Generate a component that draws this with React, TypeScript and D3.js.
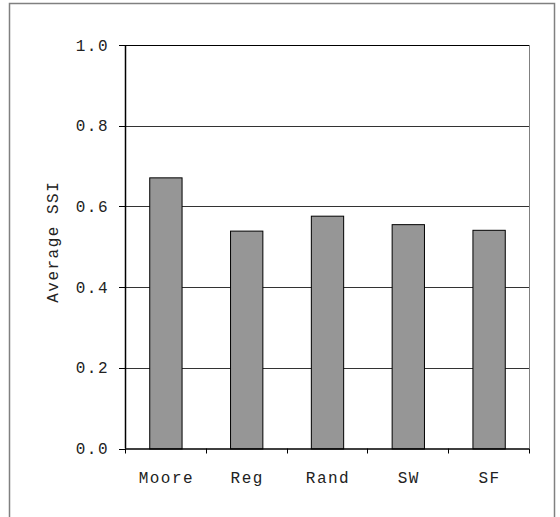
import { useRef, useEffect } from "react";
import * as d3 from "d3";

const categories = ["Moore", "Reg", "Rand", "SW", "SF"];
const ssiValues = [0.672, 0.54, 0.577, 0.556, 0.542];
const yTicks = [0, 0.2, 0.4, 0.6, 0.8, 1.0];

const App = () => {
  const ref = useRef<SVGSVGElement>(null);

  useEffect(() => {
    const svg = d3.select(ref.current);
    svg.selectAll("*").remove();

    const margin = { top: 45, left: 125, right: 31, bottom: 68 };
    const W = 560;
    const H = 517;
    const width = W - margin.left - margin.right;
    const height = H - margin.top - margin.bottom - 0.5;
    const font = "'Liberation Mono', 'DejaVu Sans Mono', monospace";

    // outer frame
    svg
      .append("rect")
      .attr("x", 9.5)
      .attr("y", 3.5)
      .attr("width", 545)
      .attr("height", 520)
      .attr("fill", "white")
      .attr("stroke", "#808080")
      .attr("stroke-width", 1.5);

    const g = svg.append("g").attr("transform", `translate(${margin.left},${margin.top})`);

    const x = d3.scaleBand<string>().domain(categories).range([0, width]).paddingInner(0.6).paddingOuter(0.3);
    const y = d3.scaleLinear().domain([0, 1]).range([height, 0]);

    // gridlines
    g.selectAll(".grid")
      .data(yTicks.slice(1))
      .enter()
      .append("line")
      .attr("x1", 0)
      .attr("x2", width)
      .attr("y1", d => Math.round(y(d)) + 0.5)
      .attr("y2", d => Math.round(y(d)) + 0.5)
      .attr("stroke", d => (d === 1 ? "#000" : "#333"))
      .attr("stroke-width", 1);

    // right edge of plot
    g.append("line")
      .attr("x1", width + 0.5)
      .attr("x2", width + 0.5)
      .attr("y1", 0)
      .attr("y2", height)
      .attr("stroke", "#808080");

    // bars
    g.selectAll(".bar")
      .data(ssiValues)
      .enter()
      .append("rect")
      .attr("x", (_d, i) => (x(categories[i]) as number) + 0.5)
      .attr("y", d => y(d) + 0.5)
      .attr("width", x.bandwidth())
      .attr("height", d => height - y(d))
      .attr("fill", "#969696")
      .attr("stroke", "#000")
      .attr("stroke-width", 1);

    // y axis
    g.append("line")
      .attr("x1", 0.5)
      .attr("x2", 0.5)
      .attr("y1", 0)
      .attr("y2", height)
      .attr("stroke", "#000")
      .attr("stroke-width", 1.5);

    g.selectAll(".ytick")
      .data(yTicks)
      .enter()
      .append("line")
      .attr("x1", -6)
      .attr("x2", 0)
      .attr("y1", d => Math.round(y(d)) + 0.5)
      .attr("y2", d => Math.round(y(d)) + 0.5)
      .attr("stroke", "#000");

    g.selectAll(".ylabel")
      .data(yTicks)
      .enter()
      .append("text")
      .attr("x", -16)
      .attr("y", d => y(d))
      .attr("dy", "0.35em")
      .attr("text-anchor", "end")
      .attr("font-family", font)
      .attr("font-size", 16)
      .attr("letter-spacing", 1.5)
      .attr("fill", "#222")
      .text(d => d.toFixed(1));

    // x axis
    g.append("line")
      .attr("x1", 0)
      .attr("x2", width)
      .attr("y1", height + 0.5)
      .attr("y2", height + 0.5)
      .attr("stroke", "#000")
      .attr("stroke-width", 1.5);

    const step = x.step();
    const boundaries = d3.range(categories.length + 1).map(i => i * step);
    g.selectAll(".xtick")
      .data(boundaries)
      .enter()
      .append("line")
      .attr("x1", d => Math.round(d) + 0.5)
      .attr("x2", d => Math.round(d) + 0.5)
      .attr("y1", height)
      .attr("y2", height + 5)
      .attr("stroke", "#000");

    g.selectAll(".xlabel")
      .data(categories)
      .enter()
      .append("text")
      .attr("x", d => (x(d) as number) + x.bandwidth() / 2 + 1)
      .attr("y", height + 34)
      .attr("text-anchor", "middle")
      .attr("font-family", font)
      .attr("font-size", 16)
      .attr("letter-spacing", 1.5)
      .attr("fill", "#222")
      .text(d => d);

    // y title
    g.append("text")
      .attr("transform", `translate(${-67},${height / 2 - 5}) rotate(-90)`)
      .attr("text-anchor", "middle")
      .attr("font-family", font)
      .attr("font-size", 16)
      .attr("letter-spacing", 1.5)
      .attr("fill", "#222")
      .text("Average SSI");
  }, []);

  return (
    <svg
      ref={ref}
      width={560}
      height={517}
      style={{ position: "absolute", left: 0, top: 0, background: "white" }}
    />
  );
};

export default App;
